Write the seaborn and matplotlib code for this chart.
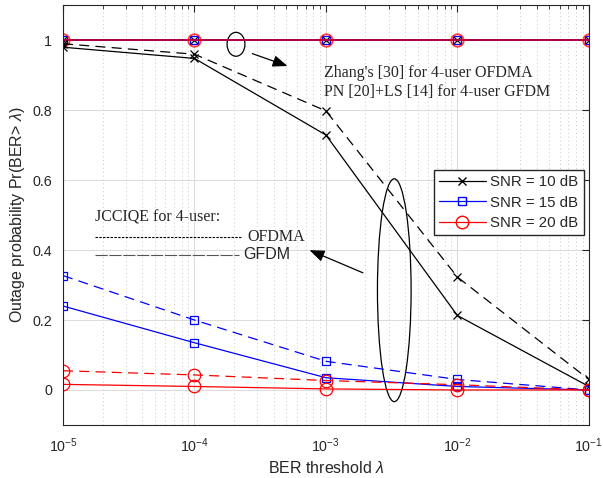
import matplotlib
matplotlib.use("Agg")
import matplotlib.pyplot as plt
import seaborn as sns
import pandas as pd
from matplotlib.patches import Ellipse
from matplotlib.lines import Line2D
from matplotlib.ticker import LogLocator, NullFormatter

ber = [1e-5, 1e-4, 1e-3, 1e-2, 1e-1]

# baseline schemes (Zhang's / PN+LS): outage always 1
baseline = [1, 1, 1, 1, 1]

# JCCIQE, GFDM (solid)
gfdm_10 = [0.980, 0.948, 0.729, 0.213, 0.010]
gfdm_15 = [0.240, 0.135, 0.035, 0.010, 0.000]
gfdm_20 = [0.016, 0.010, 0.003, 0.000, 0.000]

# JCCIQE, OFDMA (dashed)
ofdma_10 = [0.990, 0.960, 0.798, 0.323, 0.030]
ofdma_15 = [0.327, 0.200, 0.082, 0.030, 0.000]
ofdma_20 = [0.055, 0.043, 0.027, 0.015, 0.000]

snr_labels = ["SNR = 10 dB", "SNR = 15 dB", "SNR = 20 dB"]
colors = ["black", "blue", "red"]
markers = ["x", "s", "o"]

sns.set_style("white")
plt.rcParams["font.family"] = ["Liberation Sans", "DejaVu Sans"]
plt.rcParams["mathtext.fontset"] = "custom"
plt.rcParams["mathtext.rm"] = "Liberation Sans"
plt.rcParams["mathtext.it"] = "Liberation Sans:italic"

fig = plt.figure(figsize=(6.03, 4.78), dpi=100)
ax = fig.add_axes([0.1045, 0.111, 0.872, 0.878])


def draw(y, color, marker, ls, size):
    df = pd.DataFrame({"ber": ber, "p": y})
    sns.lineplot(data=df, x="ber", y="p", ax=ax, color=color, marker=marker,
                 linestyle=ls, linewidth=0.9, markersize=size,
                 markerfacecolor="none", markeredgecolor=color,
                 markeredgewidth=0.9, legend=False)


# baseline curves at 1 (red drawn last so lines look purple-ish)
draw(baseline, "black", "x", "-", 6)
draw(baseline, "blue", "s", "-", 6)
draw(baseline, "red", "o", "-", 9)
for ln in ax.lines[-3:]:
    ln.set_linewidth(1.3)
ax.lines[-1].set_alpha(0.75)
ax.lines[-1].set_markeredgewidth(1.3)

for y_g, y_o, c, m in zip([gfdm_10, gfdm_15, gfdm_20],
                          [ofdma_10, ofdma_15, ofdma_20], colors, markers):
    size = 9 if m == "o" else 6
    draw(y_g, c, m, "-", size)
    draw(y_o, c, m, (0, (8, 5)), size)

ax.set_xscale("log")
ax.set_xlim(1e-5, 1e-1)
ax.set_ylim(-0.1, 1.1)
ax.set_yticks([0, 0.2, 0.4, 0.6, 0.8, 1])
ax.set_yticklabels(["0", "0.2", "0.4", "0.6", "0.8", "1"])
ax.xaxis.set_minor_locator(LogLocator(base=10, subs=range(2, 10)))
ax.xaxis.set_minor_formatter(NullFormatter())

ax.grid(True, which="major", color="#dcdcdc", linewidth=0.8)
ax.grid(True, which="minor", axis="x", color="#c8c8c8", linestyle=(0, (1, 3)), linewidth=0.7)
for s in ax.spines.values():
    s.set_color("#262626")
    s.set_linewidth(0.8)
ax.tick_params(which="both", direction="in", top=True, right=True, labelsize=10.3, color="#262626")
ax.tick_params(which="major", length=5, pad=8)
ax.tick_params(which="minor", length=3)

ax.set_xlabel(r"BER threshold $\lambda$", fontsize=11.5)
ax.set_ylabel(r"Outage probability Pr(BER> $\lambda$)", fontsize=11.5)

handles = [Line2D([0], [0], color=c, marker=m, markersize=9 if m == "o" else 6,
                  markerfacecolor="none", linewidth=0.9)
           for c, m in zip(colors, markers)]
ax.legend(handles, snr_labels, loc="upper right", bbox_to_anchor=(0.99, 0.607),
          borderaxespad=0, fontsize=10.8, frameon=True, fancybox=False,
          edgecolor="#262626", framealpha=1, handlelength=3.1, handletextpad=0.3,
          borderpad=0.35, labelspacing=0.42)

# annotations
serif = ["Liberation Serif", "DejaVu Serif"]
tr = ax.transAxes
ax.add_patch(Ellipse((0.329, 0.907), 0.034, 0.057, transform=tr,
                     fill=False, edgecolor="black", linewidth=0.9))
ax.annotate("", xy=(0.432, 0.853), xytext=(0.355, 0.887), xycoords=tr, textcoords=tr,
            arrowprops=dict(arrowstyle="-|>,head_length=0.9,head_width=0.35",
                            color="black", lw=0.9))
ax.text(0.497, 0.838, "Zhang's [30] for 4-user OFDMA", transform=tr,
        family=serif, fontsize=11.5, va="center")
ax.text(0.497, 0.793, "PN [20]+LS [14] for 4-user GFDM", transform=tr,
        family=serif, fontsize=11.5, va="center")

ax.add_patch(Ellipse((0.63, 0.321), 0.064, 0.531, transform=tr,
                     fill=False, edgecolor="black", linewidth=0.9))
ax.annotate("", xy=(0.464, 0.419), xytext=(0.575, 0.36), xycoords=tr, textcoords=tr,
            arrowprops=dict(arrowstyle="-|>,head_length=0.9,head_width=0.35",
                            color="black", lw=0.9))

ax.text(0.06, 0.495, "JCCIQE for 4-user:", transform=tr, family=serif,
        fontsize=11.5, va="center")
ax.plot([0.06, 0.34], [0.448, 0.448], transform=tr, color="black",
        linestyle=(0, (2.2, 1.2)), linewidth=0.8)
ax.text(0.35, 0.448, "OFDMA", transform=tr, family=serif, fontsize=11.5, va="center")
ax.plot([0.06, 0.335], [0.405, 0.405], transform=tr, color="#555555",
        linestyle=(0, (11, 1.5)), linewidth=0.8)
ax.text(0.343, 0.405, "GFDM", transform=tr, fontsize=11.5, va="center")

fig.savefig("out.png", dpi=100)
